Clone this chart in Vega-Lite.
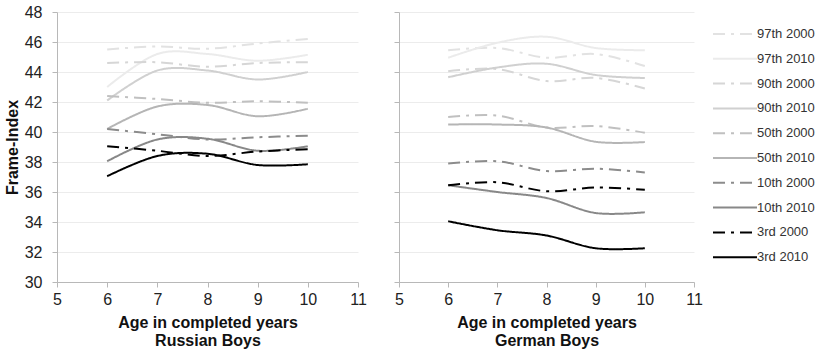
{
  "$schema": "https://vega.github.io/schema/vega-lite/v6.json",
  "background": "white",
  "padding": {"left": 4, "top": 4, "right": 2, "bottom": 2},
  "bounds": "flush",
  "config": {
    "font": "Liberation Sans",
    "view": {"stroke": null},
    "concat": {"spacing": 41},
    "axis": {
      "labelFont": "Liberation Sans", "labelFontSize": 16, "labelColor": "#222", "labelFlush": false,
      "titleFont": "Liberation Sans", "titleFontSize": 16, "titleFontWeight": "bold", "titleColor": "#111",
      "domainColor": "#b8b8b8", "tickColor": "#b8b8b8", "gridColor": "#ececec", "tickSize": 5
    },
    "legend": {
      "title": null, "symbolType": "M-1,0H2.52", "symbolSize": 625, "symbolStrokeWidth": 2,
      "rowPadding": 3.8, "labelFontSize": 13, "labelColor": "#333", "labelFont": "Liberation Sans",
      "labelOffset": 18, "padding": 0
    }
  },
  "data": {"values": [
    {"panel": "Russian Boys", "series": "97th 2000", "age": 6, "value": 45.5},
    {"panel": "Russian Boys", "series": "97th 2000", "age": 7, "value": 45.7},
    {"panel": "Russian Boys", "series": "97th 2000", "age": 8, "value": 45.55},
    {"panel": "Russian Boys", "series": "97th 2000", "age": 9, "value": 45.9},
    {"panel": "Russian Boys", "series": "97th 2000", "age": 10, "value": 46.2},
    {"panel": "Russian Boys", "series": "97th 2010", "age": 6, "value": 43.0},
    {"panel": "Russian Boys", "series": "97th 2010", "age": 7, "value": 45.2},
    {"panel": "Russian Boys", "series": "97th 2010", "age": 8, "value": 45.2},
    {"panel": "Russian Boys", "series": "97th 2010", "age": 9, "value": 44.75},
    {"panel": "Russian Boys", "series": "97th 2010", "age": 10, "value": 45.15},
    {"panel": "Russian Boys", "series": "90th 2000", "age": 6, "value": 44.6},
    {"panel": "Russian Boys", "series": "90th 2000", "age": 7, "value": 44.65},
    {"panel": "Russian Boys", "series": "90th 2000", "age": 8, "value": 44.35},
    {"panel": "Russian Boys", "series": "90th 2000", "age": 9, "value": 44.6},
    {"panel": "Russian Boys", "series": "90th 2000", "age": 10, "value": 44.65},
    {"panel": "Russian Boys", "series": "90th 2010", "age": 6, "value": 42.1},
    {"panel": "Russian Boys", "series": "90th 2010", "age": 7, "value": 44.1},
    {"panel": "Russian Boys", "series": "90th 2010", "age": 8, "value": 44.1},
    {"panel": "Russian Boys", "series": "90th 2010", "age": 9, "value": 43.5},
    {"panel": "Russian Boys", "series": "90th 2010", "age": 10, "value": 44.0},
    {"panel": "Russian Boys", "series": "50th 2000", "age": 6, "value": 42.4},
    {"panel": "Russian Boys", "series": "50th 2000", "age": 7, "value": 42.2},
    {"panel": "Russian Boys", "series": "50th 2000", "age": 8, "value": 41.95},
    {"panel": "Russian Boys", "series": "50th 2000", "age": 9, "value": 42.05},
    {"panel": "Russian Boys", "series": "50th 2000", "age": 10, "value": 41.95},
    {"panel": "Russian Boys", "series": "50th 2010", "age": 6, "value": 40.2},
    {"panel": "Russian Boys", "series": "50th 2010", "age": 7, "value": 41.7},
    {"panel": "Russian Boys", "series": "50th 2010", "age": 8, "value": 41.8},
    {"panel": "Russian Boys", "series": "50th 2010", "age": 9, "value": 41.05},
    {"panel": "Russian Boys", "series": "50th 2010", "age": 10, "value": 41.55},
    {"panel": "Russian Boys", "series": "10th 2000", "age": 6, "value": 40.2},
    {"panel": "Russian Boys", "series": "10th 2000", "age": 7, "value": 39.85},
    {"panel": "Russian Boys", "series": "10th 2000", "age": 8, "value": 39.5},
    {"panel": "Russian Boys", "series": "10th 2000", "age": 9, "value": 39.65},
    {"panel": "Russian Boys", "series": "10th 2000", "age": 10, "value": 39.75},
    {"panel": "Russian Boys", "series": "10th 2010", "age": 6, "value": 38.05},
    {"panel": "Russian Boys", "series": "10th 2010", "age": 7, "value": 39.5},
    {"panel": "Russian Boys", "series": "10th 2010", "age": 8, "value": 39.55},
    {"panel": "Russian Boys", "series": "10th 2010", "age": 9, "value": 38.75},
    {"panel": "Russian Boys", "series": "10th 2010", "age": 10, "value": 39.05},
    {"panel": "Russian Boys", "series": "3rd 2000", "age": 6, "value": 39.05},
    {"panel": "Russian Boys", "series": "3rd 2000", "age": 7, "value": 38.75},
    {"panel": "Russian Boys", "series": "3rd 2000", "age": 8, "value": 38.4},
    {"panel": "Russian Boys", "series": "3rd 2000", "age": 9, "value": 38.7},
    {"panel": "Russian Boys", "series": "3rd 2000", "age": 10, "value": 38.85},
    {"panel": "Russian Boys", "series": "3rd 2010", "age": 6, "value": 37.05},
    {"panel": "Russian Boys", "series": "3rd 2010", "age": 7, "value": 38.4},
    {"panel": "Russian Boys", "series": "3rd 2010", "age": 8, "value": 38.55},
    {"panel": "Russian Boys", "series": "3rd 2010", "age": 9, "value": 37.8},
    {"panel": "Russian Boys", "series": "3rd 2010", "age": 10, "value": 37.85},
    {"panel": "German Boys", "series": "97th 2000", "age": 6, "value": 45.45},
    {"panel": "German Boys", "series": "97th 2000", "age": 7, "value": 45.6},
    {"panel": "German Boys", "series": "97th 2000", "age": 8, "value": 44.95},
    {"panel": "German Boys", "series": "97th 2000", "age": 9, "value": 45.2},
    {"panel": "German Boys", "series": "97th 2000", "age": 10, "value": 44.4},
    {"panel": "German Boys", "series": "97th 2010", "age": 6, "value": 44.95},
    {"panel": "German Boys", "series": "97th 2010", "age": 7, "value": 45.95},
    {"panel": "German Boys", "series": "97th 2010", "age": 8, "value": 46.35},
    {"panel": "German Boys", "series": "97th 2010", "age": 9, "value": 45.6},
    {"panel": "German Boys", "series": "97th 2010", "age": 10, "value": 45.45},
    {"panel": "German Boys", "series": "90th 2000", "age": 6, "value": 44.05},
    {"panel": "German Boys", "series": "90th 2000", "age": 7, "value": 44.2},
    {"panel": "German Boys", "series": "90th 2000", "age": 8, "value": 43.4},
    {"panel": "German Boys", "series": "90th 2000", "age": 9, "value": 43.6},
    {"panel": "German Boys", "series": "90th 2000", "age": 10, "value": 42.9},
    {"panel": "German Boys", "series": "90th 2010", "age": 6, "value": 43.65},
    {"panel": "German Boys", "series": "90th 2010", "age": 7, "value": 44.3},
    {"panel": "German Boys", "series": "90th 2010", "age": 8, "value": 44.55},
    {"panel": "German Boys", "series": "90th 2010", "age": 9, "value": 43.8},
    {"panel": "German Boys", "series": "90th 2010", "age": 10, "value": 43.6},
    {"panel": "German Boys", "series": "50th 2000", "age": 6, "value": 41.0},
    {"panel": "German Boys", "series": "50th 2000", "age": 7, "value": 41.1},
    {"panel": "German Boys", "series": "50th 2000", "age": 8, "value": 40.3},
    {"panel": "German Boys", "series": "50th 2000", "age": 9, "value": 40.4},
    {"panel": "German Boys", "series": "50th 2000", "age": 10, "value": 39.95},
    {"panel": "German Boys", "series": "50th 2010", "age": 6, "value": 40.5},
    {"panel": "German Boys", "series": "50th 2010", "age": 7, "value": 40.5},
    {"panel": "German Boys", "series": "50th 2010", "age": 8, "value": 40.3},
    {"panel": "German Boys", "series": "50th 2010", "age": 9, "value": 39.35},
    {"panel": "German Boys", "series": "50th 2010", "age": 10, "value": 39.33},
    {"panel": "German Boys", "series": "10th 2000", "age": 6, "value": 37.9},
    {"panel": "German Boys", "series": "10th 2000", "age": 7, "value": 38.05},
    {"panel": "German Boys", "series": "10th 2000", "age": 8, "value": 37.4},
    {"panel": "German Boys", "series": "10th 2000", "age": 9, "value": 37.55},
    {"panel": "German Boys", "series": "10th 2000", "age": 10, "value": 37.3},
    {"panel": "German Boys", "series": "10th 2010", "age": 6, "value": 36.45},
    {"panel": "German Boys", "series": "10th 2010", "age": 7, "value": 36.0},
    {"panel": "German Boys", "series": "10th 2010", "age": 8, "value": 35.6},
    {"panel": "German Boys", "series": "10th 2010", "age": 9, "value": 34.6},
    {"panel": "German Boys", "series": "10th 2010", "age": 10, "value": 34.65},
    {"panel": "German Boys", "series": "3rd 2000", "age": 6, "value": 36.45},
    {"panel": "German Boys", "series": "3rd 2000", "age": 7, "value": 36.65},
    {"panel": "German Boys", "series": "3rd 2000", "age": 8, "value": 36.05},
    {"panel": "German Boys", "series": "3rd 2000", "age": 9, "value": 36.3},
    {"panel": "German Boys", "series": "3rd 2000", "age": 10, "value": 36.15},
    {"panel": "German Boys", "series": "3rd 2010", "age": 6, "value": 34.05},
    {"panel": "German Boys", "series": "3rd 2010", "age": 7, "value": 33.45},
    {"panel": "German Boys", "series": "3rd 2010", "age": 8, "value": 33.1},
    {"panel": "German Boys", "series": "3rd 2010", "age": 9, "value": 32.25},
    {"panel": "German Boys", "series": "3rd 2010", "age": 10, "value": 32.25}
  ]},
  "hconcat": [
    {
      "width": 301, "height": 270,
      "transform": [{"filter": "datum.panel === 'Russian Boys'"}],
      "mark": {"type": "line", "interpolate": "cardinal", "strokeWidth": 2},
      "encoding": {
        "x": {"field": "age", "type": "quantitative",
              "scale": {"domain": [5, 11], "nice": false},
              "axis": {"values": [5, 6, 7, 8, 9, 10, 11], "grid": false, "labelPadding": 4, "titlePadding": 7, "titleLineHeight": 18,
                       "title": ["Age in completed years", "Russian Boys"]}},
        "y": {"field": "value", "type": "quantitative",
              "scale": {"domain": [30, 48], "nice": false, "zero": false},
              "axis": {"values": [30, 32, 34, 36, 38, 40, 42, 44, 46, 48], "grid": true, "labelPadding": 10, "titlePadding": 4, "title": "Frame-Index"}},
        "color": {"field": "series", "type": "nominal",
                  "legend": {"orient": "none", "legendX": 655, "legendY": 8.5},
                  "scale": {"domain": ["97th 2000", "97th 2010", "90th 2000", "90th 2010", "50th 2000", "50th 2010", "10th 2000", "10th 2010", "3rd 2000", "3rd 2010"],
                            "range": ["#e2e2e2", "#ebebeb", "#d6d6d6", "#d0d0d0", "#c0c0c0", "#b5b5b5", "#8c8c8c", "#888888", "#000000", "#000000"]}},
        "strokeDash": {"field": "series", "type": "nominal",
                  "legend": {"orient": "none", "legendX": 655, "legendY": 8.5},
                  "scale": {"domain": ["97th 2000", "97th 2010", "90th 2000", "90th 2010", "50th 2000", "50th 2010", "10th 2000", "10th 2010", "3rd 2000", "3rd 2010"],
                            "range": [[12, 6, 3, 6], [1, 0], [12, 6, 3, 6], [1, 0], [12, 6, 3, 6], [1, 0], [12, 6, 3, 6], [1, 0], [12, 6, 3, 6], [1, 0]]}}
      }
    },
    {
      "width": 295, "height": 270,
      "transform": [{"filter": "datum.panel === 'German Boys'"}],
      "mark": {"type": "line", "interpolate": "cardinal", "strokeWidth": 2},
      "encoding": {
        "x": {"field": "age", "type": "quantitative",
              "scale": {"domain": [5, 11], "nice": false},
              "axis": {"values": [5, 6, 7, 8, 9, 10, 11], "grid": false, "labelPadding": 4, "titlePadding": 7, "titleLineHeight": 18,
                       "title": ["Age in completed years", "German Boys"]}},
        "y": {"field": "value", "type": "quantitative",
              "scale": {"domain": [30, 48], "nice": false, "zero": false},
              "axis": {"values": [30, 32, 34, 36, 38, 40, 42, 44, 46, 48], "grid": true, "labels": false, "title": null}},
        "color": {"field": "series", "type": "nominal"},
        "strokeDash": {"field": "series", "type": "nominal"}
      }
    }
  ]
}
